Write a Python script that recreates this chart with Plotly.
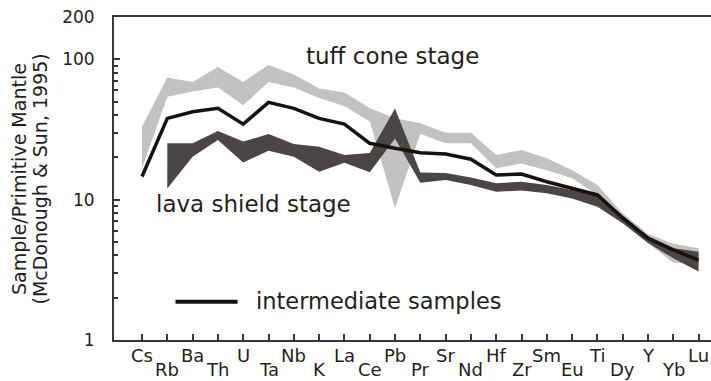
import plotly.graph_objects as go
import math

elements = ["Cs", "Rb", "Ba", "Th", "U", "Ta", "Nb", "K", "La", "Ce", "Pb", "Pr",
            "Sr", "Nd", "Hf", "Zr", "Sm", "Eu", "Ti", "Dy", "Y", "Yb", "Lu"]

tuff_upper = [33, 74, 69, 88, 69, 91, 78, 62, 58, 45, 38, 35, 30, 30, 20.8, 22.6,
              19.7, 16.2, 12.7, 8.0, 5.7, 4.85, 4.5]
tuff_lower = [16.8, 54, 59, 63, 47, 69, 63, 53, 46.5, 36, 8.7, 29.5, 25.2, 25.2,
              16.7, 18.1, 16.2, 14.2, 10.8, 6.9, 4.9, 3.55, 3.5]

lava_upper = [None, 25.2, 25.2, 30.8, 25.9, 29.3, 24.9, 23.8, 20.8, 21.5, 44.5, 15.6,
              15.5, 14.4, 13.1, 13.4, 12.7, 11.7, 10.8, 7.7, 5.5, 4.5, 4.26]
lava_lower = [None, 12.0, 20.2, 26.6, 18.4, 22.3, 20.2, 15.8, 18.3, 15.7, 27.3, 13.2,
              13.8, 12.7, 11.4, 11.6, 11.1, 10.2, 8.9, 6.8, 4.9, 3.82, 3.07]

intermediate = [14.6, 37.9, 42.3, 44.7, 34.5, 49.3, 44.7, 37.9, 34.5, 25.2, 23.2, 21.6,
                21.1, 19.4, 15.0, 15.2, 13.4, 12.0, 10.8, 7.4, 5.3, 4.38, 3.71]

y_tick_vals = [1, 10, 100, 200]
y_tick_text = ["1", "10", "100", "200"]
y_minor_vals = [2, 3, 4, 5, 6, 7, 8, 9, 20, 30, 40, 50, 60, 70, 80, 90]

LIGHT = "#c2c2c2"
DARK = "#4a4646"
LINE = "#17110f"
AXIS = "#3a3633"
TXT = "#231f20"
FONT = "DejaVu Sans"

idx = list(range(len(elements)))


def band(upper, lower):
    xs = [i for i in idx if upper[i] is not None]
    up = [upper[i] for i in xs]
    lo = [lower[i] for i in xs]
    return xs + xs[::-1], up + lo[::-1]


fig = go.Figure()

bx, by = band(tuff_upper, tuff_lower)
fig.add_trace(go.Scatter(x=bx, y=by, fill="toself", fillcolor=LIGHT, mode="lines",
                         line=dict(width=0, color=LIGHT), hoverinfo="skip", showlegend=False))

bx, by = band(lava_upper, lava_lower)
fig.add_trace(go.Scatter(x=bx, y=by, fill="toself", fillcolor=DARK, mode="lines",
                         line=dict(width=0, color=DARK), hoverinfo="skip", showlegend=False))

fig.add_trace(go.Scatter(x=idx, y=intermediate, mode="lines",
                         line=dict(color=LINE, width=3.5), showlegend=False))

annotations = []
# staggered element labels
for i, el in enumerate(elements):
    annotations.append(dict(x=i, xref="x", y=-0.047 if i % 2 == 0 else -0.092, yref="paper",
                            text=el, showarrow=False, xanchor="center", yanchor="middle",
                            font=dict(family=FONT, size=18, color=TXT)))

# stage labels
annotations.append(dict(x=6.40, xref="x", y=2.02, yref="y", text="tuff cone stage",
                        showarrow=False, xanchor="left", yanchor="middle",
                        font=dict(family=FONT, size=23, color=TXT)))
annotations.append(dict(x=0.47, xref="x", y=0.97, yref="y", text="lava shield stage",
                        showarrow=False, xanchor="left", yanchor="middle",
                        font=dict(family=FONT, size=23, color=TXT)))
annotations.append(dict(x=0.2345, xref="paper", y=0.122, yref="paper", text="intermediate samples",
                        showarrow=False, xanchor="left", yanchor="middle",
                        font=dict(family=FONT, size=22.5, color=TXT)))

# y axis title (two lines)
annotations.append(dict(x=-0.160, xref="paper", y=0.5, yref="paper", text="Sample/Primitive Mantle",
                        showarrow=False, xanchor="center", yanchor="middle", textangle=-90,
                        font=dict(family=FONT, size=19, color=TXT)))
annotations.append(dict(x=-0.124, xref="paper", y=0.5, yref="paper", text="(McDonough &amp; Sun, 1995)",
                        showarrow=False, xanchor="center", yanchor="middle", textangle=-90,
                        font=dict(family=FONT, size=19, color=TXT)))

fig.update_layout(
    width=711, height=381,
    margin=dict(l=114, r=0, t=17, b=41),
    paper_bgcolor="white", plot_bgcolor="white",
    annotations=annotations,
    shapes=[dict(type="line", xref="paper", yref="paper", x0=0.103, x1=0.207,
                 y0=0.1186, y1=0.1186, line=dict(color=LINE, width=4))],
    showlegend=False,
)

fig.update_xaxes(range=[-1.107, 22.49], tickmode="array", tickvals=idx, showticklabels=False,
                 ticks="inside", ticklen=6, tickwidth=2, tickcolor=AXIS,
                 showline=True, linecolor=AXIS, linewidth=2, mirror=True,
                 showgrid=False, zeroline=False)

fig.update_yaxes(type="log", range=[0, math.log10(200)], tickmode="array",
                 tickvals=y_tick_vals, ticktext=y_tick_text,
                 ticks="inside", ticklen=6, tickwidth=2, tickcolor=AXIS,
                 minor=dict(tickmode="array", tickvals=y_minor_vals, ticks="inside",
                            ticklen=4, tickwidth=1.5, tickcolor=AXIS, showgrid=False),
                 tickfont=dict(family=FONT, size=17, color=TXT),
                 ticklabelstandoff=14,
                 showline=True, linecolor=AXIS, linewidth=2, mirror=False,
                 showgrid=False, zeroline=False)

fig.write_html("out.html")
